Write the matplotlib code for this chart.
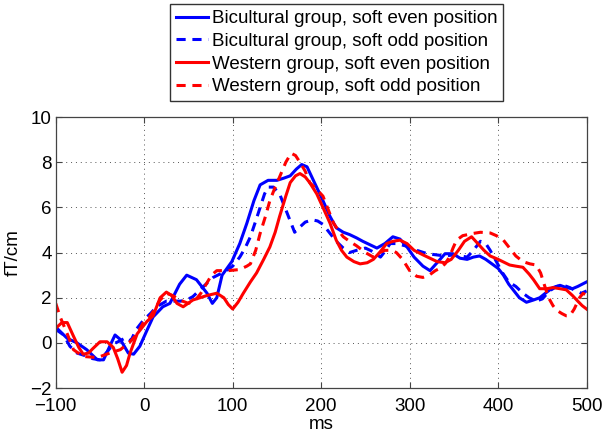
import numpy as np
import matplotlib.pyplot as plt

plt.rcParams['font.family'] = ['Liberation Sans', 'DejaVu Sans']

# Bicultural group, soft even position
t_bic_even = [-100, -87, -76, -65, -53, -46, -39, -33, -27, -18, -12, -5, 3, 10, 21, 29, 40, 48, 59, 71,
              77, 82, 88, 99, 108, 116, 124, 131, 140, 150, 158, 165, 172, 178, 184, 190, 196, 202, 210, 217,
              225, 232, 240, 247, 255, 263, 272, 281, 289, 297, 305, 315, 323, 331, 340, 349, 357, 365, 372, 379,
              386, 393, 400, 406, 412, 417, 424, 432, 440, 447, 455, 462, 470, 477, 484, 490, 495, 500]
v_bic_even = [0.7, 0.2, 0.0, -0.3, -0.75, -0.75, -0.15, 0.35, 0.15, -0.45, -0.5, -0.15, 0.55, 1.15, 1.6, 1.75, 2.6, 3.0, 2.8, 2.2,
              1.75, 2.0, 3.0, 3.6, 4.4, 5.3, 6.3, 7.0, 7.2, 7.2, 7.3, 7.4, 7.7, 7.9, 7.8, 7.3, 6.8, 6.3, 5.6, 5.1,
              4.9, 4.8, 4.65, 4.5, 4.35, 4.2, 4.4, 4.7, 4.6, 4.25, 3.8, 3.4, 3.2, 3.55, 3.95, 3.95, 3.75, 3.7, 3.8, 3.85,
              3.7, 3.5, 3.3, 3.0, 2.6, 2.35, 2.0, 1.8, 1.9, 2.0, 2.25, 2.45, 2.55, 2.45, 2.4, 2.5, 2.6, 2.7]

# Bicultural group, soft odd position
t_bic_odd = [-100, -91, -84, -76, -68, -58, -50, -42, -35, -27, -20, -15, -9, -1, 7, 14, 25, 33, 41, 48,
             55, 67, 78, 93, 100, 108, 114, 120, 126, 131, 136, 140, 146, 153, 160, 165, 170, 175, 182, 190,
             196, 202, 210, 217, 225, 232, 240, 250, 258, 267, 272, 278, 285, 295, 308, 320, 330, 340, 350, 358,
             365, 372, 380, 386, 391, 398, 405, 412, 420, 428, 435, 443, 450, 458, 466, 474, 481, 488, 494, 500]
v_bic_odd = [0.6, 0.35, -0.15, -0.45, -0.55, -0.7, -0.75, -0.4, -0.05, 0.1, 0.25, 0.1, 0.6, 1.0, 1.3, 1.6, 1.85, 1.85, 1.85, 1.9,
             2.05, 2.5, 2.9, 3.2, 3.4, 3.8, 4.2, 4.7, 5.4, 6.0, 6.6, 6.9, 6.9, 6.6, 5.9, 5.4, 4.9, 5.1, 5.35, 5.45,
             5.4, 5.25, 4.85, 4.5, 4.2, 4.0, 4.1, 4.2, 4.05, 3.8, 4.05, 4.4, 4.4, 4.3, 4.1, 3.95, 3.9, 3.85, 3.9, 3.85,
             3.8, 4.1, 4.5, 4.4, 4.1, 3.6, 3.1, 2.7, 2.5, 2.2, 2.0, 1.85, 1.95, 2.3, 2.5, 2.55, 2.45, 2.3, 2.2, 2.3]

# Western group, soft even position
t_west_even = [-100, -93, -87, -80, -74, -69, -63, -58, -50, -42, -35, -30, -25, -20, -16, -8, 3, 10, 18, 25,
               31, 37, 44, 55, 63, 71, 82, 90, 95, 100, 106, 112, 120, 127, 135, 142, 148, 153, 160, 165,
               171, 176, 182, 187, 195, 202, 210, 217, 223, 229, 237, 244, 252, 259, 267, 274, 281, 289, 297, 305,
               315, 323, 331, 340, 347, 355, 362, 370, 377, 384, 391, 400, 413, 420, 428, 435, 440, 447, 455, 462,
               470, 477, 484, 490, 495, 500]
v_west_even = [0.65, 0.9, 0.9, 0.3, -0.2, -0.5, -0.45, -0.25, 0.05, 0.05, -0.2, -0.7, -1.3, -1.0, -0.45, 0.4, 0.95, 1.2, 2.0, 2.25,
               2.1, 1.75, 1.6, 1.9, 2.0, 2.1, 2.2, 2.0, 1.7, 1.5, 1.8, 2.2, 2.7, 3.1, 3.7, 4.25, 4.9, 5.6, 6.5, 7.1,
               7.4, 7.5, 7.35, 7.1, 6.6, 6.0, 5.3, 4.55, 4.1, 3.8, 3.6, 3.5, 3.55, 3.7, 4.05, 4.4, 4.5, 4.55, 4.4, 4.1,
               3.9, 3.75, 3.6, 3.55, 3.7, 4.1, 4.5, 4.7, 4.4, 4.1, 3.85, 3.7, 3.45, 3.4, 3.35, 3.05, 2.8, 2.4, 2.4, 2.45,
               2.4, 2.35, 2.1, 1.85, 1.65, 1.5]

# Western group, soft odd position
t_west_odd = [-100, -95, -87, -80, -69, -53, -39, -27, -16, -8, -1, 6, 12, 18, 25, 32, 40, 50, 58, 64,
              70, 76, 82, 95, 108, 116, 120, 126, 131, 137, 142, 148, 153, 160, 166, 171, 176, 182, 187, 195,
              202, 208, 214, 220, 225, 232, 240, 250, 259, 266, 272, 280, 285, 292, 300, 308, 315, 322, 329, 334,
              340, 345, 349, 353, 360, 366, 372, 380, 391, 398, 406, 413, 420, 428, 436, 443, 448, 452, 457, 462,
              466, 472, 477, 481, 486, 492, 496, 500]
v_west_odd = [1.75, 1.15, 0.4, -0.3, -0.6, -0.65, -0.45, -0.3, 0.05, 0.4, 0.9, 1.15, 1.5, 1.9, 2.2, 2.1, 1.9, 1.75, 1.9, 2.2,
              2.6, 3.0, 3.2, 3.2, 3.25, 3.4, 3.5, 4.1, 4.85, 5.6, 6.3, 6.9, 7.35, 8.0, 8.4, 8.3, 8.0, 7.6, 7.1, 6.8,
              6.5, 5.9, 5.3, 4.95, 4.7, 4.5, 4.3, 4.0, 3.8, 4.0, 4.1, 4.1, 4.0, 3.7, 3.2, 2.95, 2.9, 3.0, 3.2, 3.3,
              3.5, 3.8, 4.2, 4.55, 4.75, 4.8, 4.85, 4.9, 4.87, 4.75, 4.55, 4.2, 3.85, 3.6, 3.5, 3.45, 3.1, 2.6, 2.0, 1.65,
              1.45, 1.3, 1.2, 1.2, 1.5, 2.0, 2.2, 2.1]

labels = ['Bicultural group, soft even position', 'Bicultural group, soft odd position',
          'Western group, soft even position', 'Western group, soft odd position']

fig = plt.figure(figsize=(6.06, 4.37), dpi=100)
ax = fig.add_axes([0.092, 0.112, 0.876, 0.620])

blue = '#0000ff'
red = '#ff0000'
ax.plot(t_bic_even, v_bic_even, color=blue, lw=2.2, label=labels[0])
ax.plot(t_bic_odd, v_bic_odd, color=blue, lw=2.2, ls=(0, (3, 2.2)), label=labels[1])
ax.plot(t_west_even, v_west_even, color=red, lw=2.2, label=labels[2])
ax.plot(t_west_odd, v_west_odd, color=red, lw=2.2, ls=(0, (3, 2.2)), label=labels[3])

ax.set_xlim(-100, 500)
ax.set_ylim(-2, 10)
ax.set_xticks(np.arange(-100, 501, 100))
ax.set_yticks(np.arange(-2, 11, 2))
ax.set_xticklabels(['\u2212100', '0', '100', '200', '300', '400', '500'])
ax.set_yticklabels(['\u22122', '0', '2', '4', '6', '8', '10'])
ax.grid(True, color='#555555', ls=(0, (1, 4)), lw=0.7)
ax.tick_params(direction='in', top=True, right=True, labelsize=13.5, length=4, color='#444444')
ax.tick_params(axis='x', pad=7)
ax.tick_params(axis='y', pad=3)
for s in ax.spines.values():
    s.set_color('#444444')
    s.set_linewidth(0.9)
ax.set_xlabel('ms', fontsize=13.5, labelpad=1)
ax.set_ylabel('fT/cm', fontsize=13.5, labelpad=6)

fig.legend(loc='upper left', bbox_to_anchor=(170 / 606, 1 - 4 / 437), fontsize=13.5,
           frameon=True, fancybox=False, edgecolor='#333333', framealpha=1,
           handlelength=1.7, handletextpad=0.2, borderpad=0.32, labelspacing=0.3, borderaxespad=0)

fig.savefig('out.png', dpi=100)
